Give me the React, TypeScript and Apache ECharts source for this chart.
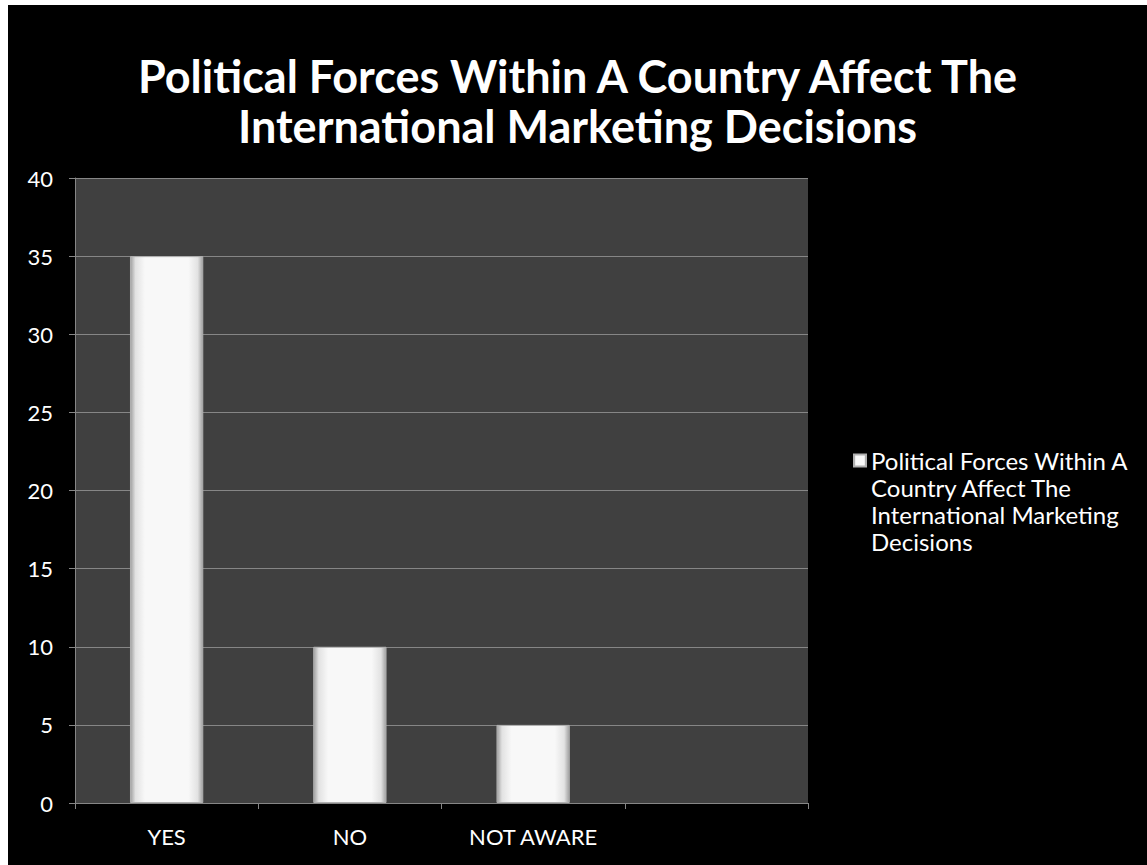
import React, { useEffect, useRef } from "react";
import * as echarts from "echarts";

const categories = ["YES", "NO", "NOT AWARE", ""];
const values: (number | null)[] = [35, 10, 5, null];
const seriesName = "Political Forces Within A Country Affect The International Marketing Decisions";
const legendLines = ["Political Forces Within A", "Country Affect The", "International Marketing", "Decisions"];
const titleText = "Political Forces Within A Country Affect The\nInternational Marketing Decisions";
const yMin = 0;
const yMax = 40;
const yStep = 5;

const FONT = "Lato, 'Open Sans', sans-serif";

export default function App() {
  const ref = useRef<HTMLDivElement>(null);
  useEffect(() => {
    if (!ref.current) return;
    const chart = echarts.init(ref.current, null, { renderer: "svg" });
    const barFill = new echarts.graphic.LinearGradient(0, 0, 1, 0, [
      { offset: 0, color: "#a0a0a0" },
      { offset: 0.07, color: "#e2e2e2" },
      { offset: 0.2, color: "#f8f8f8" },
      { offset: 0.8, color: "#f8f8f8" },
      { offset: 0.93, color: "#e2e2e2" },
      { offset: 1, color: "#a0a0a0" },
    ]);
    chart.setOption({
      animation: false,
      backgroundColor: "#000000",
      title: {
        text: titleText,
        left: "center",
        top: 41,
        textStyle: {
          color: "#ffffff",
          fontFamily: FONT,
          fontWeight: "bold",
          fontSize: 45,
          lineHeight: 50,
        },
      },
      grid: { left: 67, right: 339, top: 173, bottom: 62, show: true, backgroundColor: "#404040", borderWidth: 0 },
      legend: {
        orient: "vertical",
        left: 840,
        top: 356,
        itemWidth: 12,
        itemHeight: 12,
        icon: "rect",
        formatter: () => "\n\n\n" + legendLines.join("\n"),
        textStyle: {
          color: "#ffffff",
          fontFamily: FONT,
          fontSize: 24,
          lineHeight: 27,
        },
        data: [seriesName],
      },
      xAxis: {
        type: "category",
        data: categories,
        axisLine: { lineStyle: { color: "#868686", width: 1 } },
        axisTick: { show: true, length: 6, lineStyle: { color: "#868686" } },
        axisLabel: { color: "#ffffff", fontFamily: FONT, fontSize: 22, margin: 22 },
        splitLine: { show: false },
      },
      yAxis: {
        type: "value",
        min: yMin,
        max: yMax,
        interval: yStep,
        axisLine: { show: true, lineStyle: { color: "#868686", width: 1 } },
        axisTick: { show: true, length: 6, lineStyle: { color: "#868686" } },
        axisLabel: { color: "#ffffff", fontFamily: FONT, fontSize: 22, margin: 22 },
        splitLine: { show: true, lineStyle: { color: "#868686", width: 1 } },
      },
      series: [
        {
          name: seriesName,
          type: "bar",
          data: values,
          barWidth: "40%",
          itemStyle: { color: barFill, borderColor: "#b0b0b0", borderWidth: 1 },
        },
      ],
    });
    return () => chart.dispose();
  }, []);
  return (
    <div
      ref={ref}
      style={{ position: "fixed", left: 8, top: 5, right: 0, bottom: 0, width: 1139, height: 860 }}
    />
  );
}
